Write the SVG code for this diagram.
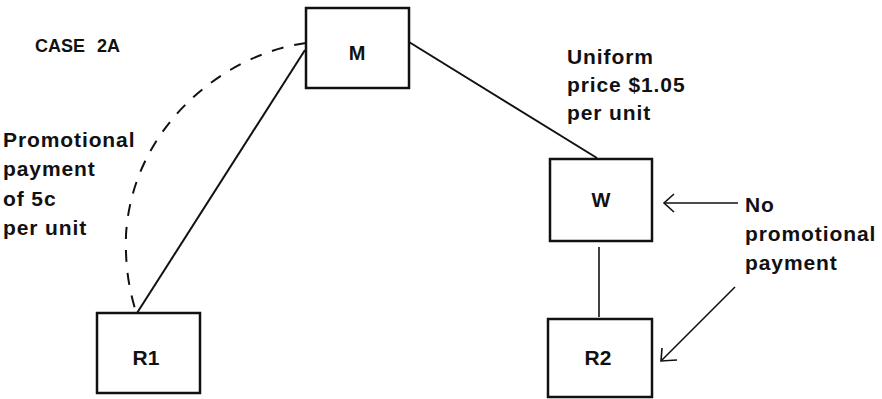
<svg xmlns="http://www.w3.org/2000/svg" width="882" height="399" viewBox="0 0 882 399">
<style>
.box{fill:#fff;stroke:#111;stroke-width:2.5}
.lbl{font-family:"Liberation Sans",Arial,sans-serif;font-weight:bold;fill:#111}
.node{font-size:20px;text-anchor:middle}
.big{font-size:21px}
.ttl{font-size:18px}
.txt{font-size:21px;letter-spacing:0.9px}
.ln{stroke:#111;stroke-width:2;fill:none}
.arr{stroke:#111;stroke-width:1.6;fill:none}
</style>
<rect width="882" height="399" fill="#fff"/>
<g id="title"><text class="lbl ttl" x="35" y="52">CASE</text><text class="lbl ttl" x="97" y="52">2A</text></g>
<g id="connectors">
<line class="ln" x1="409" y1="42" x2="597" y2="158"/>
<line class="ln" x1="305" y1="50" x2="137" y2="313"/>
<path class="ln" d="M306,43 C220,55 132,130 126,235 C125,270 130,292 136,312" stroke-dasharray="12,11" stroke-width="2.2"/>
<line class="arr" x1="599" y1="247" x2="599" y2="317"/>
<line class="arr" x1="738" y1="203" x2="664" y2="203"/>
<polyline class="arr" points="674,194 664,203 674,212"/>
<line class="arr" x1="735" y1="287" x2="661" y2="361"/>
<polyline class="arr" points="662,348 661,361 677,360"/>
</g>
<g id="node-M"><rect class="box" x="306" y="8" width="103" height="80"/><text class="lbl node" x="357" y="60">M</text></g>
<g id="node-W"><rect class="box" x="550" y="159" width="102" height="82"/><text class="lbl node" x="601" y="207">W</text></g>
<g id="node-R1"><rect class="box" x="97" y="313" width="103" height="80"/><text class="lbl node big" x="146" y="365">R1</text></g>
<g id="node-R2"><rect class="box" x="548" y="319" width="104" height="78"/><text class="lbl node big" x="598" y="365">R2</text></g>
<g id="label-left" class="lbl txt">
<text x="3" y="147">Promotional</text>
<text x="3" y="176">payment</text>
<text x="3" y="206">of 5c</text>
<text x="3" y="235">per unit</text>
</g>
<g id="label-price" class="lbl txt">
<text x="567" y="64">Uniform</text>
<text x="567" y="92">price $1.05</text>
<text x="567" y="120">per unit</text>
</g>
<g id="label-none" class="lbl txt">
<text x="745" y="212">No</text>
<text x="745" y="241">promotional</text>
<text x="745" y="270">payment</text>
</g>
</svg>
